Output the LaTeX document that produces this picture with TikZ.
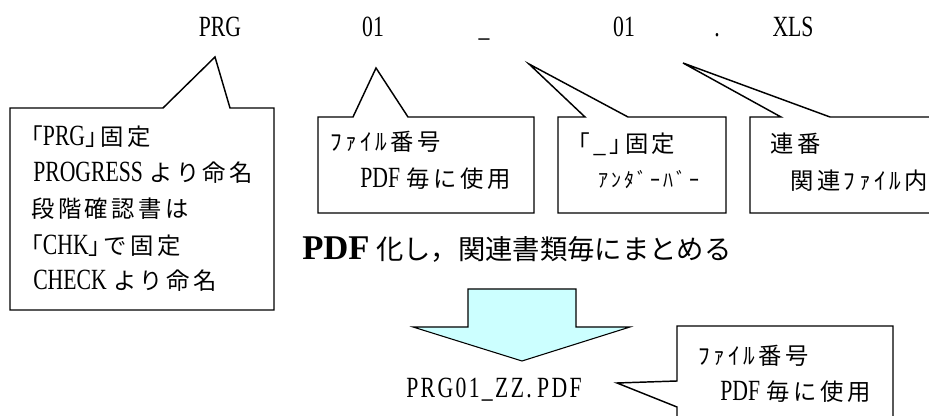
\documentclass[tikz,border=0pt]{standalone}
\usepackage{fontspec}
\usepackage{xcolor}
\setmainfont[FakeStretch=0.74]{Liberation Serif}
\newfontfamily\boldlat{Liberation Serif}
\newfontfamily\jpfont[LetterSpace=15]{Noto Sans CJK JP}
\newfontfamily\jpplain{Noto Sans CJK JP}
\newcommand{\ja}[1]{{\jpfont #1}}
\newcommand{\gap}{\hspace{5pt}}
\definecolor{arrowfill}{HTML}{CCFFFF}

\begin{document}
\begin{tikzpicture}[x=0.75pt, y=-0.75pt, line join=miter]
    \tikzstyle{fname}=[anchor=base, inner sep=0pt, font=\fontsize{22}{26}\selectfont]
    \tikzstyle{note}=[anchor=base west, inner sep=0pt, font=\fontsize{17.5}{21}\selectfont]
    \tikzstyle{kana}=[anchor=base west, inner sep=0pt, font=\fontsize{15}{18}\selectfont]
    \tikzstyle{callout}=[draw=black, line width=1.1pt, fill=white]
    \tikzstyle{bigarrow}=[draw=black, line width=0.8pt, fill=arrowfill]
    \newcommand{\lat}[1]{{\fontsize{22}{26}\selectfont #1}}

    \useasboundingbox (0,0) rectangle (929,416);

    % Callout shapes
    \draw[callout] (10,108) -- (163,108) -- (215,57) -- (230,108) -- (274,108)
        -- (274,310) -- (10,310) -- cycle;
    \draw[callout] (318,117) -- (353,117) -- (376,68) -- (408,117) -- (534,117)
        -- (534,213) -- (318,213) -- cycle;
    \draw[callout] (558,117) -- (585,117) -- (529,64) -- (628,117) -- (726,117)
        -- (726,213) -- (558,213) -- cycle;
    \draw[callout] (750,117) -- (781,117) -- (683,63) -- (830,117) -- (940,117)
        -- (940,213) -- (750,213) -- cycle;
    \draw[callout] (677,326) -- (893,326) -- (893,425) -- (677,425) -- (677,407)
        -- (617,383) -- (677,381) -- cycle;

    % File name parts
    \node[fname] (prg) at (220,37) {PRG};
    \node[fname] (numA) at (373,37) {01};
    \node[fname] (uscore) at (484,37) {\_};
    \node[fname] (numB) at (624,37) {01};
    \node[fname] (dot) at (717,37) {.};
    \node[fname] (ext) at (793,37) {XLS};

    % Callout texts
    \node[note] (fixA) at (31,146) {\ja{｢}\lat{PRG}\ja{｣固定}};
    \node[note] (fixB) at (33,182) {\lat{PROGRESS}\gap\ja{より命名}};
    \node[note] (fixC) at (31,218) {\ja{段階確認書は}};
    \node[note] (fixD) at (31,255) {\ja{｢}\lat{CHK}\ja{｣で固定}};
    \node[note] (fixE) at (33,290) {\lat{CHECK}\gap\ja{より命名}};

    \node[note] (fileA) at (330,151) {\ja{ﾌｧｲﾙ番号}};
    \node[note] (fileB) at (360,188) {\lat{PDF}\gap\ja{毎に使用}};

    \node[note] (usA) at (578,153) {\ja{｢\_｣固定}};
    \node[kana] (usB) at (598,188) {\ja{ｱﾝﾀﾞｰﾊﾞｰ}};

    \node[note] (seqA) at (770,153) {\ja{連番}};
    \node[note] (seqB) at (790,190) {\ja{関連ﾌｧｲﾙ内}};

    % Merge step
    \node[anchor=base west, inner sep=0pt] (merge) at (302,260)
        {{\fontsize{26}{30}\selectfont\boldlat\bfseries PDF}\hspace{5pt}%
         {\fontsize{20.5}{24}\selectfont\jpplain 化し，関連書類毎にまとめる}};

    \draw[bigarrow] (468,289) -- (576,289) -- (576,327) -- (630,327) -- (522,361)
        -- (413,327) -- (468,327) -- cycle;

    \node[fname] (result) at (494,398) {\addfontfeature{LetterSpace=8}PRG01\_ZZ.\hspace{4pt}PDF};

    \node[note] (resA) at (698,365) {\ja{ﾌｧｲﾙ番号}};
    \node[note] (resB) at (720,401) {\lat{PDF}\gap\ja{毎に使用}};
\end{tikzpicture}
\end{document}
